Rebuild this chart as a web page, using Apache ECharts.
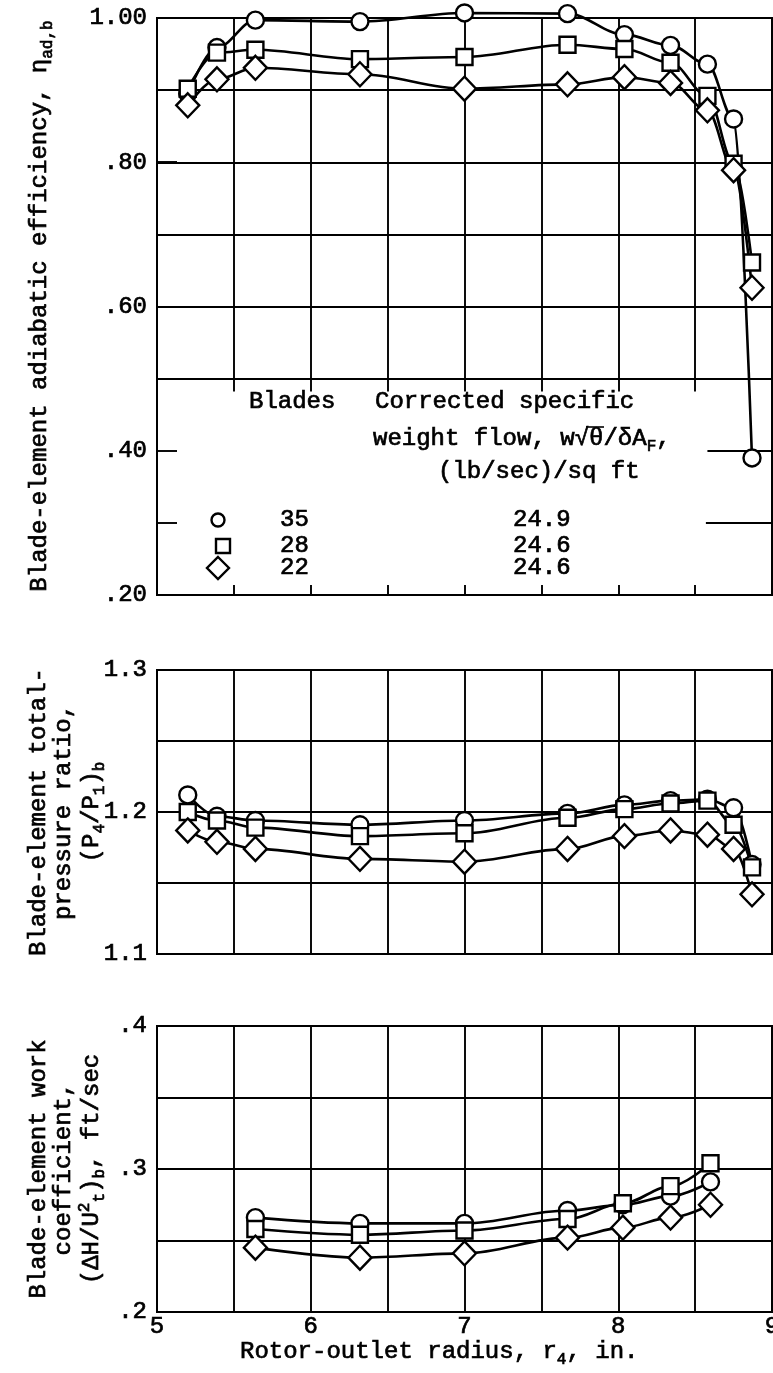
<!DOCTYPE html>
<html><head><meta charset="utf-8">
<script src="https://cdn.jsdelivr.net/npm/echarts@6/dist/echarts.min.js"></script>
<style>html,body{margin:0;padding:0;background:#fff}#c{width:773px;height:1373px}</style>
</head><body><div id="c"></div><script>
// ---------- data ----------
const radiiA = [5.2, 5.39, 5.64, 6.32, 7.0, 7.67, 8.04, 8.34, 8.58, 8.75, 8.87];
const eff35 = [0.895, 0.959, 0.997, 0.995, 1.007, 1.006, 0.977, 0.962, 0.936, 0.860, 0.390];
const eff28 = [0.902, 0.952, 0.956, 0.943, 0.946, 0.963, 0.957, 0.938, 0.892, 0.798, 0.661];
const eff22 = [0.879, 0.915, 0.931, 0.922, 0.902, 0.908, 0.918, 0.910, 0.872, 0.789, 0.626];
const pr35 = [1.212, 1.197, 1.194, 1.191, 1.194, 1.199, 1.205, 1.208, 1.209, 1.203, 1.163];
const pr28 = [1.200, 1.194, 1.189, 1.183, 1.185, 1.196, 1.202, 1.206, 1.208, 1.191, 1.161];
const pr22 = [1.187, 1.179, 1.174, 1.167, 1.165, 1.174, 1.183, 1.187, 1.184, 1.174, 1.142];
const radiiB = [5.64, 6.32, 7.0, 7.67, 8.03, 8.34, 8.6];
const wc35 = [0.266, 0.262, 0.262, 0.271, 0.275, 0.281, 0.291];
const wc28 = [0.258, 0.254, 0.257, 0.265, 0.276, 0.288, 0.304];
const wc22 = [0.245, 0.238, 0.241, 0.252, 0.259, 0.266, 0.275];
const blades = ['35', '28', '22'];
const flows = ['24.9', '24.6', '24.6'];
const xTicks = [5, 6, 7, 8, 9];
const xTickLabels = ['5', '6', '7', '8', '9'];
const effTicks = [0.2, 0.4, 0.6, 0.8, 1.0];
const effTickLabels = ['.20', '.40', '.60', '.80', '1.00'];
const prTicks = [1.1, 1.2, 1.3];
const prTickLabels = ['1.1', '1.2', '1.3'];
const wcTicks = [0.2, 0.3, 0.4];
const wcTickLabels = ['.2', '.3', '.4'];

// ---------- style ----------
const FONT = "'Liberation Mono', 'DejaVu Sans Mono', monospace";
const FS = 24;
const BLACK = '#000';
const GL = 1.9;
const TB = 0.7; // text stroke to mimic typewriter weight
const symbols = ['circle', 'rect', 'diamond'];
const symSizes = [17, 16, [23, 24]];

function fmt(ticks, labels) {
  return v => { for (let i = 0; i < ticks.length; i++) if (Math.abs(v - ticks[i]) < 1e-6) return labels[i]; return ''; };
}
const grids = [
  {left: 157, top: 18, width: 615, height: 577},
  {left: 157, top: 670, width: 615, height: 284},
  {left: 157, top: 1026, width: 615, height: 286}
].map(g => Object.assign(g, {show: true, borderColor: BLACK, borderWidth: 2, backgroundColor: 'transparent', containLabel: false, outerBoundsMode: 'none'}));

const labelStyle = {fontFamily: FONT, fontSize: FS, color: BLACK, textBorderColor: BLACK, textBorderWidth: TB};
function xAx(i) {
  return {
    type: 'value', gridIndex: i, min: 5, max: 9, interval: 0.5,
    axisLine: {show: true, lineStyle: {color: BLACK, width: 2}},
    axisTick: {show: i === 0, inside: true, length: 10, lineStyle: {color: BLACK, width: GL}},
    splitLine: {show: i !== 0, lineStyle: {color: BLACK, width: GL}},
    axisLabel: Object.assign({show: i === 2, formatter: fmt(xTicks, xTickLabels), margin: 3, hideOverlap: false}, labelStyle)
  };
}
function yAx(i, min, max, interval, ticks, labels) {
  return {
    type: 'value', gridIndex: i, min, max, interval,
    axisLine: {show: true, lineStyle: {color: BLACK, width: 2}},
    axisTick: {show: i === 0, inside: true, length: 20, lineStyle: {color: BLACK, width: GL}},
    splitLine: {show: i !== 0, lineStyle: {color: BLACK, width: GL}},
    axisLabel: Object.assign({formatter: fmt(ticks, labels), margin: 10, hideOverlap: false}, labelStyle)
  };
}

function zip(xs, ys) { return xs.map((x, i) => [x, ys[i]]); }
function curve(i, k, xs, ys) {
  return {
    type: 'line', xAxisIndex: i, yAxisIndex: i, data: zip(xs, ys),
    smooth: 0.35, smoothMonotone: 'x', clip: false, z: 5,
    symbol: symbols[k], symbolSize: symSizes[k], showAllSymbol: true,
    lineStyle: {color: BLACK, width: 2.6},
    itemStyle: {color: '#fff', borderColor: BLACK, borderWidth: 2.4},
    emphasis: {disabled: true}, silent: true
  };
}

// partial grid of the top panel (legend area left open)
const topSegs = [];
[0.5, 0.6, 0.7, 0.8, 0.9].forEach(y => topSegs.push({coords: [[5, y], [9, y]]}));
[5.5, 6, 6.5, 7, 7.5, 8, 8.5].forEach(x => topSegs.push({coords: [[x, 1.0], [x, 0.482]]}));
topSegs.push({coords: [[8.58, 0.4], [9, 0.4]]});
topSegs.push({coords: [[8.57, 0.3], [9, 0.3]]});

const series = [
  {type: 'lines', coordinateSystem: 'cartesian2d', xAxisIndex: 0, yAxisIndex: 0, data: topSegs, z: 1, silent: true,
   lineStyle: {color: BLACK, width: GL, opacity: 1}, effect: {show: false}},
  curve(0, 0, radiiA, eff35), curve(0, 1, radiiA, eff28), curve(0, 2, radiiA, eff22),
  curve(1, 0, radiiA, pr35), curve(1, 1, radiiA, pr28), curve(1, 2, radiiA, pr22),
  curve(2, 0, radiiB, wc35), curve(2, 1, radiiB, wc28), curve(2, 2, radiiB, wc22)
];

const txt = {fontFamily: FONT, fontSize: FS, fill: BLACK, stroke: BLACK, lineWidth: TB};
const tok = {fontFamily: FONT, fill: BLACK, stroke: BLACK, lineWidth: TB};
const rich = {
  n: Object.assign({fontSize: FS, lineHeight: 25}, tok),
  sub: Object.assign({fontSize: 16, verticalAlign: 'bottom', lineHeight: 31}, tok),
  sup: Object.assign({fontSize: 16, verticalAlign: 'top', lineHeight: 31}, tok)
};
function T(x, y, text, opts) {
  return Object.assign({type: 'text', x, y, silent: true, style: Object.assign({text, rich}, txt, {align: 'left', verticalAlign: 'middle'})}, opts || {});
}
function R(x, y, text) {
  return {type: 'text', x, y, rotation: Math.PI / 2, silent: true,
          style: Object.assign({}, txt, {rich, text, align: 'center', verticalAlign: 'middle'})};
}
const graphics = [
  R(40, 306, '{n|Blade-element adiabatic efficiency, η}{sub|ad,b}'),
  R(67, 812, '{n|Blade-element total-}\n{n|pressure ratio,}\n{n|(P}{sub|4}{n|/P}{sub|1}{n|)}{sub|b}'),
  R(67, 1169, '{n|Blade-element work}\n{n|coefficient,}\n{n|(ΔH/U}{sup|2}{sub|t}{n|)}{sub|b}{n|, ft/sec}'),
  T(240, 1352, '{n|Rotor-outlet radius, r}{sub|4}{n|, in.}'),
  T(249, 402, 'Blades'),
  T(375, 402, 'Corrected specific'),
  T(373, 439, '{n|weight flow, w√θ/δA}{sub|F}{n|,}'),
  {type: 'line', silent: true, shape: {x1: 586, y1: 427, x2: 604, y2: 427}, style: {stroke: BLACK, lineWidth: 1.6}},
  T(438, 472, '(lb/sec)/sq ft')
];
const rowsY = [520, 546, 568];
rowsY.forEach((y, k) => {
  graphics.push(T(280, y, blades[k]));
  graphics.push(T(513, y, flows[k]));
});
graphics.push({type: 'circle', silent: true, shape: {cx: 218, cy: rowsY[0], r: 6.5}, style: {fill: '#fff', stroke: BLACK, lineWidth: 2.4}});
graphics.push({type: 'rect', silent: true, shape: {x: 216, y: rowsY[1] - 7, width: 14, height: 14}, style: {fill: '#fff', stroke: BLACK, lineWidth: 2.4}});
graphics.push({type: 'polygon', silent: true, shape: {points: [[218, rowsY[2] - 11], [229, rowsY[2]], [218, rowsY[2] + 11], [207, rowsY[2]]]}, style: {fill: '#fff', stroke: BLACK, lineWidth: 2.4}});

const chart = echarts.init(document.getElementById('c'), null, {renderer: 'canvas'});
chart.setOption({
  animation: false,
  backgroundColor: '#fff',
  grid: grids,
  xAxis: [xAx(0), xAx(1), xAx(2)],
  yAxis: [
    yAx(0, 0.2, 1.0, 0.1, effTicks, effTickLabels),
    yAx(1, 1.1, 1.3, 0.05, prTicks, prTickLabels),
    yAx(2, 0.2, 0.4, 0.05, wcTicks, wcTickLabels)
  ],
  series,
  graphic: graphics
});
</script></body></html>
